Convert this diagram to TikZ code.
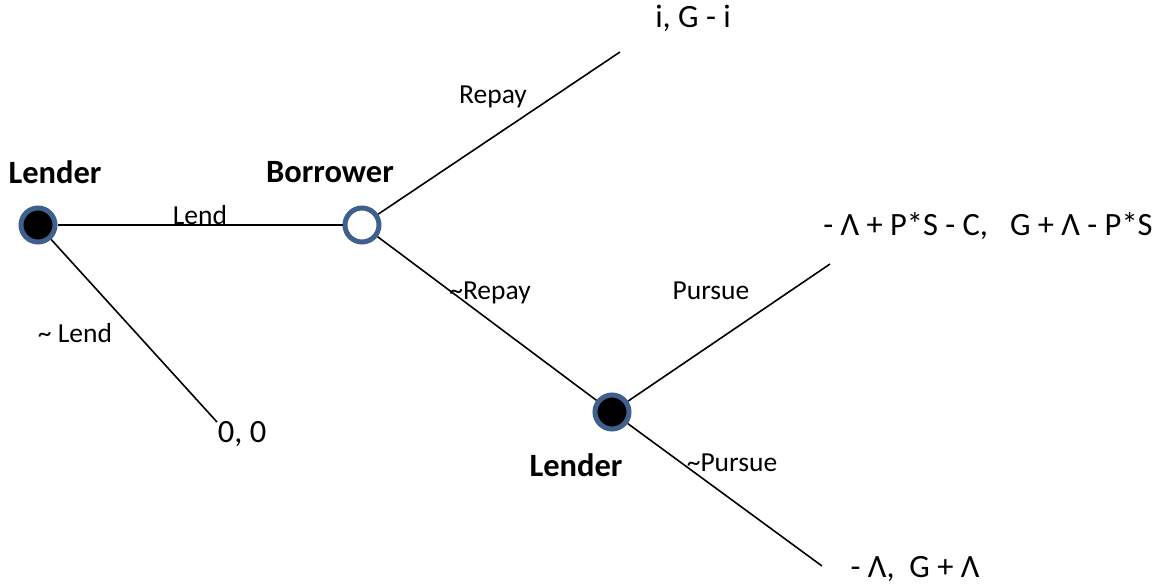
\documentclass[tikz,border=0pt]{standalone}
\usepackage{fontspec}
\setmainfont{Carlito}
\definecolor{ringblue}{HTML}{3F5F8C}
\begin{document}
\begin{tikzpicture}[x=1pt,y=-1pt,
  dec/.style={circle,draw=ringblue,line width=5pt,minimum size=34pt,inner sep=0pt},
  full/.style={dec,fill=black},
  empty/.style={dec,fill=white},
  edge/.style={line width=1.6pt},
  who/.style={font=\fontsize{32.5}{36}\selectfont\bfseries,inner sep=0pt},
  act/.style={font=\fontsize{27.5}{32}\selectfont,inner sep=0pt},
  pay/.style={font=\fontsize{32.5}{38}\selectfont,inner sep=0pt}]
\useasboundingbox (0,0) rectangle (1166,586);
\node[full] (L1) at (38,225) {};
\node[empty] (B) at (362,225) {};
\node[full] (L2) at (612,412) {};
\coordinate (nl) at (217,422);
\coordinate (rp) at (620,52);
\coordinate (pu) at (830,264);
\coordinate (np) at (822,566);
\draw[edge] (L1) -- (B);
\draw[edge] (L1) -- (nl);
\draw[edge] (B) -- (rp);
\draw[edge] (B) -- (L2);
\draw[edge] (L2) -- (pu);
\draw[edge] (L2) -- (np);
\node[who] (tL1) at (55,172) {Lender};
\node[who] (tB) at (330,172) {Borrower};
\node[who] (tL2) at (576,465) {Lender};
\node[act] (aLend) at (200,215) {Lend};
\node[act] (anLend) at (75,333) {\char`~\ Lend};
\node[act] (aRepay) at (493,97) {Repay};
\node[act] (anRepay) at (490,293) {\char`~Repay};
\node[act] (aPursue) at (711,291) {Pursue};
\node[act] (anPursue) at (732,463) {\char`~Pursue};
\node[pay] (p1) at (693,18) {i, G - i};
\node[pay] (p2) at (988,226) {- Λ + P*S - C,\ \ \ G + Λ - P*S};
\node[pay] (p3) at (242,434) {0, 0};
\node[pay] (p4) at (915,569) {- Λ,\ \ G + Λ};
\end{tikzpicture}
\end{document}
